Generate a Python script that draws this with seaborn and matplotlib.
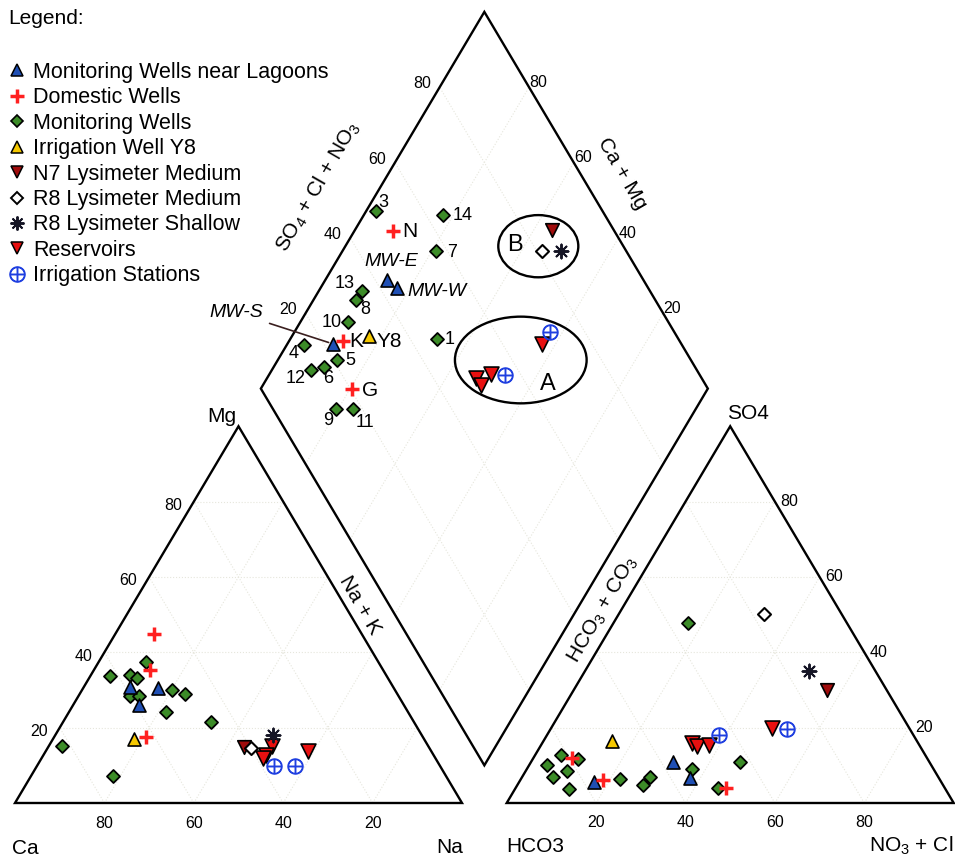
import matplotlib
matplotlib.use("Agg")
import matplotlib.pyplot as plt
import seaborn as sns
from matplotlib.patches import Ellipse, Polygon
from matplotlib.lines import Line2D

# ---------------- data (percent of meq/L) ----------------
# Cation triangle: Mg % and Na+K % (Ca is the remainder)
lag_cat_mg = [30.8, 30.6, 25.9]
lag_cat_na = [10.4, 16.8, 14.9]
dom_cat_mg = [44.8, 35.2, 17.5]
dom_cat_na = [8.8, 12.6, 20.6]
mw_cat_mg = [37.5, 33.7, 34.0, 33.3, 28.4, 28.5, 30.1, 29.0, 24.1, 21.4, 15.2, 7.2]
mw_cat_na = [10.6, 4.3, 8.8, 10.7, 11.6, 13.5, 20.0, 23.5, 21.7, 33.1, 2.9, 18.3]
y8_cat_mg = [17.1]
y8_cat_na = [18.1]
n7_cat_mg = [14.9]
n7_cat_na = [43.7]
r8m_cat_mg = [14.6]
r8m_cat_na = [45.4]
r8s_cat_mg = [18.0]
r8s_cat_na = [48.8]
res_cat_mg = [15.0, 12.8, 11.9, 13.7]
res_cat_na = [49.9, 49.7, 49.6, 58.8]
irr_cat_mg = [9.7, 9.7]
irr_cat_na = [53.2, 57.8]

# Anion triangle: SO4 % and NO3+Cl % (HCO3 is the remainder)
lag_an_so4 = [11.0, 6.6, 5.7]
lag_an_cl = [31.6, 37.6, 16.7]
dom_an_so4 = [11.9, 6.1, 3.9]
dom_an_cl = [8.6, 18.5, 47.0]
mw_an_so4 = [10.1, 12.8, 7.0, 8.6, 11.7, 3.7, 6.3, 4.8, 6.9, 9.1, 11.0, 4.1, 47.7]
mw_an_cl = [4.0, 5.7, 6.8, 9.1, 10.2, 12.1, 22.2, 28.2, 28.6, 37.0, 46.7, 45.3, 16.8]
y8_an_so4 = [16.4]
y8_an_cl = [15.4]
n7_an_so4 = [30.0]
n7_an_cl = [56.6]
r8m_an_so4 = [50.1]
r8m_an_cl = [32.4]
r8s_an_so4 = [35.0]
r8s_an_cl = [50.2]
res_an_so4 = [19.9, 15.9, 15.0, 15.5]
res_an_cl = [49.5, 33.4, 35.0, 37.5]
irr_an_so4 = [19.6, 18.1]
irr_an_cl = [52.8, 38.4]

# Diamond: SO4+Cl+NO3 % and Ca+Mg %
lag_names = ["MW-E", "MW-W", "MW-S"]
lag_dm_scl = [42.5, 43.8, 22.0]
lag_dm_camg = [86.2, 83.0, 89.9]
dom_names = ["N", "K", "G"]
dom_dm_scl = [50.6, 24.8, 20.4]
dom_dm_camg = [91.3, 87.9, 79.5]
mw_names = ["1", "3", "4", "5", "6", "7", "8", "9", "10", "11", "12", "13", "14"]
mw_dm_scl = [46.0, 49.3, 15.5, 20.8, 17.0, 57.4, 33.0, 14.0, 28.2, 17.9, 13.7, 35.6, 63.9]
mw_dm_camg = [67.3, 97.8, 96.1, 86.8, 88.8, 79.2, 90.4, 80.5, 89.4, 76.8, 91.3, 90.4, 82.2]
y8_dm_scl = [31.2]
y8_dm_camg = [82.8]
n7_dm_scl = [86.1]
n7_dm_camg = [56.0]
r8m_dm_scl = [81.1]
r8m_dm_camg = [55.4]
r8s_dm_scl = [85.3]
r8s_dm_camg = [51.2]
res_dm_scl = [68.8, 49.5, 49.7, 53.3]
res_dm_camg = [43.1, 53.2, 51.3, 50.5]
irr_dm_scl = [72.2, 56.4]
irr_dm_camg = [42.8, 47.2]

tick_vals = [20, 40, 60, 80]

# ---------------- geometry ----------------
GAP = 10.0
H = 0.8660254


def cat_xy(mg, na):
    return [n + 0.5 * m for m, n in zip(mg, na)], [H * m for m in mg]


def an_xy(so4, cl):
    return [100 + GAP + c + 0.5 * s for s, c in zip(so4, cl)], [H * s for s in so4]


def dm_xy(scl, camg):
    x0, y0 = 100 + GAP / 2, H * GAP
    return ([x0 + 0.5 * (s - c) for s, c in zip(scl, camg)],
            [y0 + H * (s + c) for s, c in zip(scl, camg)])


sns.set_style("white")
plt.rcParams["font.family"] = ["Liberation Sans", "DejaVu Sans"]
plt.rcParams["mathtext.fontset"] = "custom"
plt.rcParams["mathtext.rm"] = "Liberation Sans"
plt.rcParams["mathtext.it"] = "Liberation Sans:italic"
plt.rcParams["text.color"] = "black"

fig = plt.figure(figsize=(9.55, 8.61), dpi=100)
ax = fig.add_axes([0, 0, 1, 1])
SX, SY = 4.47, 4.35
ax.set_xlim(-15 / SX, (955 - 15) / SX)
ax.set_ylim((803 - 861) / SY, 803 / SY)
ax.axis("off")

# outlines
ax.add_patch(Polygon([(0, 0), (100, 0), (50, 100 * H)], closed=True, fill=False, ec="black", lw=1.7, zorder=2))
ax.add_patch(Polygon([(110, 0), (210, 0), (160, 100 * H)], closed=True, fill=False, ec="black", lw=1.7, zorder=2))
dx0, dy0 = 105, H * GAP
ax.add_patch(Polygon([(dx0, dy0), (dx0 + 50, dy0 + 100 * H), (dx0, dy0 + 200 * H), (dx0 - 50, dy0 + 100 * H)],
                     closed=True, fill=False, ec="black", lw=1.7, zorder=2))

# faint grid
gk = dict(color="#e6e6dc", lw=0.8, ls=":", zorder=1)
for v in tick_vals:
    ax.plot([0.5 * v, 100 - 0.5 * v], [H * v, H * v], **gk)
    ax.plot([v, 50 + 0.5 * v], [0, H * (100 - v)], **gk)
    ax.plot([v, 0.5 * v], [0, H * v], **gk)
    ax.plot([110 + 0.5 * v, 210 - 0.5 * v], [H * v, H * v], **gk)
    ax.plot([110 + v, 160 + 0.5 * v], [0, H * (100 - v)], **gk)
    ax.plot([110 + v, 110 + 0.5 * v], [0, H * v], **gk)
    xa, ya = dm_xy([v, v], [0, 100])
    ax.plot(xa, ya, **gk)
    xb, yb = dm_xy([0, 100], [v, v])
    ax.plot(xb, yb, **gk)

# ---------------- styles ----------------
BLUE = "#1f4fb4"
GREEN = "#3c8c28"
YEL = "#f5c800"
DRED = "#a00c0c"
RED = "#e81010"
PLUS = "#ff2020"
CIRC = "#1f3fe0"

styles = {
    "mw": dict(marker="D", s=44, color=GREEN, edgecolor="black", linewidth=1.3, zorder=5),
    "lag": dict(marker="^", s=88, color=BLUE, edgecolor="black", linewidth=1.2, zorder=6),
    "dom": dict(marker="+", s=110, color=PLUS, linewidth=2.5, zorder=6),
    "y8": dict(marker="^", s=88, color=YEL, edgecolor="black", linewidth=1.2, zorder=6),
    "n7": dict(marker="v", s=95, color=DRED, edgecolor="black", linewidth=1.2, zorder=5),
    "r8m": dict(marker="D", s=44, color="white", edgecolor="black", linewidth=1.5, zorder=6),
    "res": dict(marker="v", s=115, color=RED, edgecolor="black", linewidth=1.2, zorder=7),
    "irr": dict(marker=r"$\oplus$", s=120, color=CIRC, edgecolor=CIRC, linewidth=0.9, zorder=7),
    "r8s": dict(marker=(8, 2, 0), s=100, color="#151525", linewidth=1.4, zorder=7),
}

groups = [
    ("mw", mw_cat_mg, mw_cat_na, mw_an_so4, mw_an_cl, mw_dm_scl, mw_dm_camg),
    ("lag", lag_cat_mg, lag_cat_na, lag_an_so4, lag_an_cl, lag_dm_scl, lag_dm_camg),
    ("dom", dom_cat_mg, dom_cat_na, dom_an_so4, dom_an_cl, dom_dm_scl, dom_dm_camg),
    ("y8", y8_cat_mg, y8_cat_na, y8_an_so4, y8_an_cl, y8_dm_scl, y8_dm_camg),
    ("n7", n7_cat_mg, n7_cat_na, n7_an_so4, n7_an_cl, n7_dm_scl, n7_dm_camg),
    ("r8m", r8m_cat_mg, r8m_cat_na, r8m_an_so4, r8m_an_cl, r8m_dm_scl, r8m_dm_camg),
    ("res", res_cat_mg, res_cat_na, res_an_so4, res_an_cl, res_dm_scl, res_dm_camg),
    ("irr", irr_cat_mg, irr_cat_na, irr_an_so4, irr_an_cl, irr_dm_scl, irr_dm_camg),
    ("r8s", r8s_cat_mg, r8s_cat_na, r8s_an_so4, r8s_an_cl, r8s_dm_scl, r8s_dm_camg),
]

for key, cmg, cna, aso4, acl, dscl, dcamg in groups:
    st = styles[key]
    for xs, ys in (cat_xy(cmg, cna), an_xy(aso4, acl), dm_xy(dscl, dcamg)):
        sns.scatterplot(x=xs, y=ys, ax=ax, legend=False, **st)

# ---------------- point labels in diamond ----------------
mw_off = {"1": (9.6, -0.5, "center"), "3": (5, 6.5, "center"), "4": (-7.4, -6.5, "center"),
          "5": (9.6, -0.7, "center"), "6": (2.9, -8.5, "center"), "7": (8, -1, "left"),
          "8": (6.5, -6.7, "center"), "9": (-5.5, -7.7, "center"), "10": (-4.5, 0, "right"),
          "11": (8.9, -9.9, "center"), "12": (-10.8, -6.1, "center"), "13": (-5, 5, "right"),
          "14": (6.5, -0.7, "left")}
mx, my = dm_xy(mw_dm_scl, mw_dm_camg)
for name, x, y in zip(mw_names, mx, my):
    ox, oy, ha = mw_off[name]
    ax.annotate(name, (x, y), xytext=(ox, oy), textcoords="offset points",
                ha=ha, va="center", fontsize=13, zorder=8)

dom_off = {"N": (11.7, -0.6), "K": (9.5, -0.6), "G": (13, -1.2)}
dx_, dy_ = dm_xy(dom_dm_scl, dom_dm_camg)
for name, x, y in zip(dom_names, dx_, dy_):
    ox, oy = dom_off[name]
    ax.annotate(name, (x, y), xytext=(ox, oy), textcoords="offset points",
                ha="center", va="center", fontsize=15, zorder=8)

yx, yy = dm_xy(y8_dm_scl, y8_dm_camg)
ax.annotate("Y8", (yx[0], yy[0]), xytext=(5.5, -3.8), textcoords="offset points",
            ha="left", va="center", fontsize=15, zorder=8)

lx, ly = dm_xy(lag_dm_scl, lag_dm_camg)
ax.annotate("MW-E", (lx[0], ly[0]), xytext=(3, 14), textcoords="offset points",
            ha="center", va="center", fontsize=14, style="italic", zorder=8)
ax.annotate("MW-W", (lx[1], ly[1]), xytext=(7.5, -2.7), textcoords="offset points",
            ha="left", va="center", fontsize=14, style="italic", zorder=8)
ax.annotate("MW-S", (lx[2], ly[2]), xytext=(-69, 22.3), textcoords="offset points",
            ha="center", va="center", fontsize=14, style="italic", zorder=8,
            arrowprops=dict(arrowstyle="-", color="#3a1f1f", lw=1.2, shrinkA=2, shrinkB=3))

# ellipses A and B
ax.add_patch(Ellipse((117.07, 128.0), 17.9, 14.3, fill=False, ec="black", lw=1.7, zorder=3))
ax.add_patch(Ellipse((113.15, 101.84), 29.46, 19.93, fill=False, ec="black", lw=1.7, zorder=3))
ax.text(111.86, 128.3, "B", fontsize=17, ha="center", va="center", zorder=8)
ax.text(119.1, 96.4, "A", fontsize=17, ha="center", va="center", zorder=8)

# ---------------- tick labels ----------------
tk = dict(fontsize=11.5, ha="center", va="center")
for v in tick_vals:
    ax.text(0.5 * v - 4.6, H * v - 0.9, str(v), **tk)
    ax.text(100 - v, -4.8, str(v), **tk)
    ax.text(210 - 0.5 * v + 3.3, H * v, str(v), **tk)
    ax.text(110 + v, -4.4, str(v), **tk)
    xs_, ys_ = dm_xy([v], [100])
    ax.text(xs_[0] - 4.0, ys_[0] + 0.8, str(v), **tk)
    xc_, yc_ = dm_xy([100], [v])
    ax.text(xc_[0] + 2.0, yc_[0] + 1.1, str(v), **tk)

# ---------------- axis titles ----------------
tt = dict(fontsize=15, ha="center", va="center")
ax.text(46.3, 88.85, "Mg", **tt)
ax.text(2.35, -10.46, "Ca", **tt)
ax.text(97.2, -10.2, "Na", **tt)
ax.text(164.0, 89.5, "SO4", **tt)
ax.text(116.3, -10.0, "HCO3", **tt)
ax.text(200.4, -9.9, r"NO$_3$ + Cl", **tt)
ax.text(77.2, 45.5, "Na + K", rotation=-60, rotation_mode="anchor", **tt)
ax.text(131.4, 44.4, r"HCO$_3$ + CO$_3$", rotation=60, rotation_mode="anchor", **tt)
ax.text(67.8, 141.6, r"SO$_4$ + Cl + NO$_3$", rotation=60, rotation_mode="anchor", **tt)
ax.text(135.8, 144.6, "Ca + Mg", rotation=-60, rotation_mode="anchor", **tt)

# ---------------- legend ----------------
leg_labels = ["Monitoring Wells near Lagoons", "Domestic Wells", "Monitoring Wells",
              "Irrigation Well Y8", "N7 Lysimeter Medium", "R8 Lysimeter Medium",
              "R8 Lysimeter Shallow", "Reservoirs", "Irrigation Stations"]
handles = [
    Line2D([], [], ls="none", marker="^", ms=8.5, mfc=BLUE, mec="black", mew=1.1),
    Line2D([], [], ls="none", marker="+", ms=10, mec=PLUS, mew=2.5),
    Line2D([], [], ls="none", marker="D", ms=6.2, mfc=GREEN, mec="black", mew=1.2),
    Line2D([], [], ls="none", marker="^", ms=8.5, mfc=YEL, mec="black", mew=1.1),
    Line2D([], [], ls="none", marker="v", ms=8.5, mfc=DRED, mec="black", mew=1.1),
    Line2D([], [], ls="none", marker="D", ms=6.2, mfc="white", mec="black", mew=1.4),
    Line2D([], [], ls="none", marker=(8, 2, 0), ms=10, mec="#151525", mew=1.4),
    Line2D([], [], ls="none", marker="v", ms=9, mfc=RED, mec="black", mew=1.1),
    Line2D([], [], ls="none", marker=r"$\oplus$", ms=11, mfc=CIRC, mec=CIRC, mew=0.9),
]
leg = fig.legend(handles, leg_labels, loc="upper left", bbox_to_anchor=(7 / 955, 1 - 62 / 861),
                 frameon=False, fontsize=15.5, handlelength=0.9, handletextpad=0.3,
                 labelspacing=0.205, borderpad=0.0, borderaxespad=0.0)
for t in leg.get_texts():
    t.set_color("black")
fig.text(8 / 955, 1 - 19 / 861, "Legend:", fontsize=15, ha="left", va="center")

fig.savefig("out.png", dpi=100)
